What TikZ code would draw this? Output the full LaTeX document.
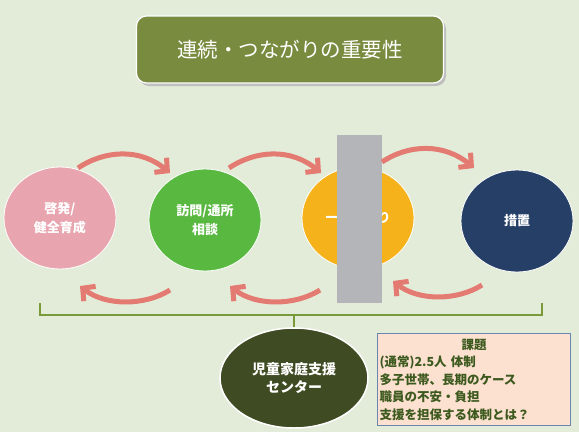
\documentclass[tikz,border=0pt]{standalone}
\usepackage{fontspec}
\setmainfont{Noto Sans CJK JP}
\usetikzlibrary{arrows.meta,shapes.geometric}
\definecolor{bgc}{HTML}{E3ECD8}
\definecolor{titlec}{HTML}{788B3F}
\definecolor{pinkc}{HTML}{E8A5AF}
\definecolor{greenc}{HTML}{58B83F}
\definecolor{yellowc}{HTML}{F5B21B}
\definecolor{navyc}{HTML}{263F66}
\definecolor{darkolive}{HTML}{3F4B22}
\definecolor{arrowc}{HTML}{E37B72}
\definecolor{bracketc}{HTML}{7A9A3A}
\definecolor{coverc}{HTML}{B4B5B9}
\definecolor{boxfill}{HTML}{FCE0D0}
\definecolor{boxline}{HTML}{6A85B0}
\definecolor{boxtext}{HTML}{3D5A1E}
\tikzset{
  ball/.style={ellipse, minimum width=112pt, minimum height=102pt, draw=white, line width=0.8pt,
    text=white, font=\fontsize{13}{19}\selectfont\bfseries, align=center, inner sep=0pt},
  flow/.style={draw=arrowc, line width=5pt, -{Straight Barb[length=9pt,width=19pt,line width=5pt]}},
  bracket/.style={draw=bracketc, line width=2pt},
}
\begin{document}
\begin{tikzpicture}[x=1pt,y=-1pt]
\fill[bgc] (0,0) rectangle (579,432);
\useasboundingbox (0,0) rectangle (579,432);
% title
\fill[black!25, rounded corners=10pt] (139,19) rectangle (446,86);
\node[draw=white, line width=1.2pt, fill=titlec, rounded corners=10pt, minimum width=307pt, minimum height=67pt,
  text=white, font=\fontsize{20.5}{24}\selectfont] (title) at (290,49.5) {連続・つながりの重要性};
% balls
\node[ball, fill=pinkc] (pink) at (60,218) {啓発/\\健全育成};
\node[ball, fill=greenc] (green) at (205,220) {訪問/通所\\相談};
\node[ball, fill=yellowc] (yellow) at (358,218) {一時預かり};
\node[ball, fill=navyc] (navy) at (517,221) {措置};
% grey cover
\node[fill=coverc, minimum width=45pt, minimum height=168pt, inner sep=0pt] (cover) at (359.5,219) {};
% arrow end points
\coordinate (a1s) at (78,168); \coordinate (a1e) at (170,173);
\coordinate (a2s) at (229,168); \coordinate (a2e) at (321,173);
\coordinate (a3s) at (382,162); \coordinate (a3e) at (474,168);
\coordinate (b1s) at (170,290); \coordinate (b1e) at (80,286);
\coordinate (b2s) at (320,290); \coordinate (b2e) at (230,286);
\coordinate (b3s) at (482,285); \coordinate (b3e) at (393,281);
\draw[flow] (a1s) .. controls (105,150) and (140,148) .. (a1e);
\draw[flow] (a2s) .. controls (256,150) and (291,148) .. (a2e);
\draw[flow] (a3s) .. controls (409,144) and (444,143) .. (a3e);
\draw[flow] (b1s) .. controls (145,306) and (105,306) .. (b1e);
\draw[flow] (b2s) .. controls (295,306) and (255,306) .. (b2e);
\draw[flow] (b3s) .. controls (457,301) and (418,301) .. (b3e);
% bottom nodes
\node[ellipse, fill=darkolive, draw=white, line width=1.5pt, minimum width=148pt, minimum height=100pt,
  text=white, font=\fontsize{14}{18}\selectfont\bfseries, align=center] (center) at (294,378) {児童家庭支援\\センター};
\node[draw=boxline, line width=1.2pt, fill=boxfill, text=boxtext, font=\fontsize{12.5}{17.5}\selectfont\bfseries,
  align=left, text width=189pt, inner sep=2pt, minimum height=92pt, anchor=north west] (issue) at (377,333)
  {\makebox[189pt]{課題}\\(通常)2.5人 体制\\多子世帯、長期のケース\\職員の不安・負担\\支援を担保する体制とは？};
% bracket
\coordinate (bl) at (40,303); \coordinate (br) at (542,303); \coordinate (bm) at (294,315);
\draw[bracket] (bl) -- (40,315) -- (542,315) -- (br);
\draw[bracket] (bm) -- (center.north);
\end{tikzpicture}
\end{document}
